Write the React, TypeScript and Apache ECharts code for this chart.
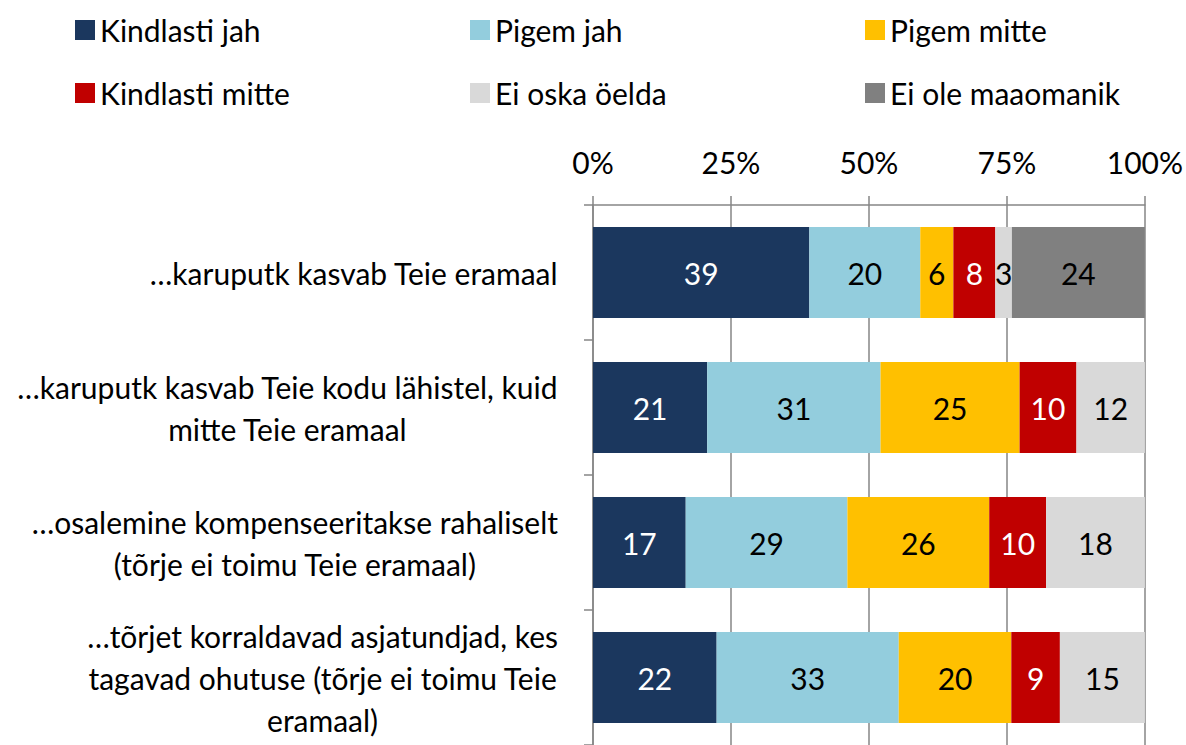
import React, { useEffect, useRef } from "react";
import * as echarts from "echarts";

const categories = [
  "…karuputk kasvab Teie eramaal",
  "…karuputk kasvab Teie kodu lähistel, kuid\nmitte Teie eramaal",
  "…osalemine kompenseeritakse rahaliselt\n(tõrje ei toimu Teie eramaal)",
  "…tõrjet korraldavad asjatundjad, kes\ntagavad ohutuse (tõrje ei toimu Teie\neramaal)",
];

const seriesNames = [
  "Kindlasti jah",
  "Pigem jah",
  "Pigem mitte",
  "Kindlasti mitte",
  "Ei oska öelda",
  "Ei ole maaomanik",
];

const kindlastiJah = [39.2, 20.7, 16.8, 22.4];
const pigemJah = [20.1, 31.4, 29.3, 33.0];
const pigemMitte = [6.0, 25.2, 25.7, 20.4];
const kindlastiMitte = [7.6, 10.3, 10.3, 8.8];
const eiOskaOelda = [3.0, 12.4, 17.9, 15.4];
const eiOleMaaomanik = [24.1, null, null, null];

const xTicks = [0, 25, 50, 75, 100];

const colors = ["#1B375E", "#93CDDD", "#FFC000", "#C00000", "#D9D9D9", "#808080"];
const labelColors = ["#ffffff", "#000000", "#000000", "#ffffff", "#000000", "#000000"];

const FONT = "Lato";
const FS = 30;

export default function App() {
  const ref = useRef<HTMLDivElement>(null);
  useEffect(() => {
    document.body.style.margin = "0";
    const chart = echarts.init(ref.current!, null, { renderer: "svg" });
    const values = [kindlastiJah, pigemJah, pigemMitte, kindlastiMitte, eiOskaOelda, eiOleMaaomanik];
    const legendPos: Record<string, [number, number]> = {
      "Kindlasti jah": [75, 15],
      "Pigem jah": [470, 15],
      "Pigem mitte": [865, 15],
      "Kindlasti mitte": [75, 78],
      "Ei oska öelda": [470, 78],
      "Ei ole maaomanik": [865, 78],
    };
    const legends = seriesNames.map((n) => ({
      data: [n],
      left: legendPos[n][0],
      top: legendPos[n][1],
      padding: 0,
      icon: "rect",
      itemWidth: 20,
      itemHeight: 20,
      selectedMode: false,
      textStyle: { fontFamily: FONT, fontSize: FS, color: "#000" },
    }));
    chart.setOption({
      animation: false,
      textStyle: { fontFamily: FONT },
      legend: legends,
      grid: { left: 593, right: 40, top: 205, height: 546, containLabel: false },
      xAxis: {
        type: "value",
        position: "top",
        min: xTicks[0],
        max: xTicks[xTicks.length - 1],
        interval: 25,
        axisLine: { show: true, lineStyle: { color: "#868686", width: 1.5 } },
        axisTick: { show: true, length: 9, lineStyle: { color: "#868686", width: 1.5 } },
        splitLine: { show: true, lineStyle: { color: "#868686", width: 1.5 } },
        axisLabel: {
          formatter: "{value}%",
          fontFamily: FONT,
          fontSize: FS,
          color: "#000",
          margin: 28,
        },
      },
      yAxis: {
        type: "category",
        inverse: true,
        data: categories,
        axisLine: { show: true, lineStyle: { color: "#868686", width: 1.5 } },
        axisTick: { show: true, length: 9, lineStyle: { color: "#868686", width: 1.5 } },
        axisLabel: {
          margin: 35,
          fontFamily: FONT,
          fontSize: FS,
          lineHeight: 42,
          color: "#000",
          formatter: (v: string) => v.split("\n").map((l) => `{c|${l}}`).join("\n"),
          rich: {
            c: { align: "center", fontFamily: FONT, fontSize: FS, lineHeight: 42, color: "#000" },
          },
        },
      },
      series: seriesNames.map((name, i) => ({
        name,
        type: "bar",
        stack: "total",
        barWidth: 91,
        data: values[i],
        itemStyle: { color: colors[i] },
        label: {
          show: true,
          position: "inside",
          fontFamily: FONT,
          fontSize: FS,
          color: labelColors[i],
          formatter: (p: any) => (p.value == null ? "" : String(Math.round(p.value))),
        },
      })),
    });
    return () => chart.dispose();
  }, []);
  return <div ref={ref} style={{ width: 1186, height: 745 }} />;
}
